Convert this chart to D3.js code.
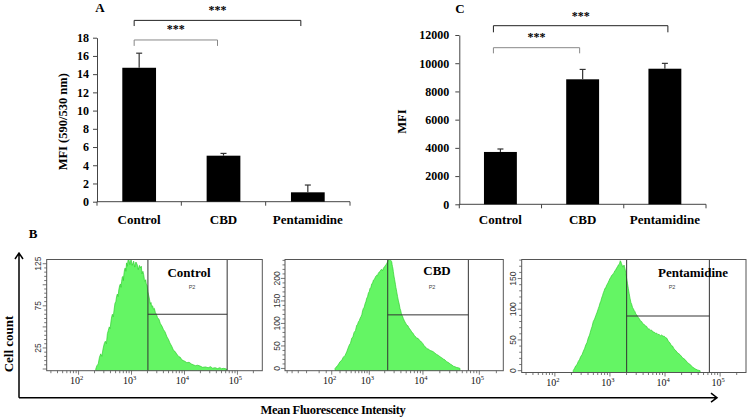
<!DOCTYPE html>
<html>
<head>
<meta charset="utf-8">
<script src="https://cdn.jsdelivr.net/npm/d3@7"></script>
<style>
  body { margin: 0; background: #fff; }
  svg { display: block; }
  text { font-family: 'Liberation Serif', 'Times New Roman', serif; }
</style>
</head>
<body>
<div id="chart"></div>
<script>
// Bar chart data (panels A and C)
const categories = ['Control', 'CBD', 'Pentamidine'];
const ratioMeans = [14.7, 5.05, 1.03];
const ratioErrors = [1.6, 0.25, 0.8];
const mfiMeans = [3710, 8860, 9610];
const mfiErrors = [210, 700, 380];
const ratioTicks = [0, 2, 4, 6, 8, 10, 12, 14, 16, 18];
const mfiTicks = [0, 2000, 4000, 6000, 8000, 10000, 12000];
// significance brackets: [from, to, level, leg drop]
const ratioBrackets = [[0, 1, 17.75, 0.65], [0, 2, 19.9, 0.62]];
const mfiBrackets = [[0, 1, 11100, 400], [0, 2, 12660, 470]];

// Flow cytometry histograms (panel B): [intensity, cell count]
const controlHist = [[211,0],[222,4],[235,6],[248,14],[262,18],[275,15],[290,24],[305,30],[320,33],[335,30],[350,42],[365,46],[380,50],[395,48],[410,57],[422,62],[435,65],[452,62],[470,71],[487,78],[505,80],[522,86],[540,89],[557,86],[575,94],[596,99],[617,101],[633,97],[650,104],[670,109],[690,110],[703,105],[716,112],[738,118],[760,120],[782,116],[805,126],[830,122],[860,129],[891,130],[930,124],[980,130],[1030,123],[1096,128],[1150,121],[1210,127],[1279,124],[1340,118],[1410,123],[1479,120],[1530,122],[1580,113],[1640,116],[1698,112],[1750,106],[1800,104],[1850,106],[1900,101],[1972,99],[2030,92],[2100,88],[2180,83],[2270,77],[2330,79],[2400,74],[2500,75],[2600,71],[2700,72],[2818,67],[2950,65],[3100,61],[3300,59],[3500,54],[3750,51],[4000,47],[4300,44],[4677,38],[5000,35],[5300,31],[5750,27],[6223,22],[6600,21],[7100,18],[7700,15],[8318,14],[8900,11],[9500,10],[10300,9],[11092,7.5],[12200,8],[13500,6],[14700,5],[16000,4],[17800,4.5],[19724,3.5],[22000,2],[25000,2.5],[28000,1.5],[31000,2.8],[34000,1],[38000,1.6],[42000,0.5],[46774,1.6],[50000,0.4],[55000,0.8],[62373,0]];
const cbdHist = [[136,0],[150,3],[170,7],[185,11],[200,15],[225,18],[250,25],[280,29],[310,37],[335,45],[360,52],[385,56],[413,67],[440,70],[470,80],[505,84],[540,96],[565,98],[590,104],[615,106],[639,111],[670,115],[700,120],[725,128],[752,133],[785,136],[820,144],[850,148],[885,156],[920,159],[960,168],[995,170],[1034,178],[1075,180],[1120,188],[1160,189],[1204,196],[1250,197],[1300,201],[1350,205],[1404,207],[1450,206],[1500,211],[1560,214],[1627,215],[1690,219],[1750,220],[1815,217],[1881,222],[1940,225],[2000,226],[2060,229],[2118,230],[2180,233],[2250,236],[2300,238],[2339,241],[2420,242],[2517,242],[2600,240],[2707,237],[2750,231],[2800,226],[2850,222],[2900,215],[2950,209],[3000,203],[3060,198],[3117,192],[3170,187],[3230,180],[3290,176],[3350,170],[3470,160],[3600,150],[3720,143],[3852,133],[3980,128],[4100,120],[4250,117],[4425,111],[4580,107],[4750,103],[4920,100],[5100,96],[5350,95],[5600,90],[5950,86],[6290,81],[6650,78],[7000,73],[7350,71],[7740,67],[8150,67],[8600,63],[9050,61],[9510,58],[10000,55],[10500,50],[11100,48],[11690,44],[12500,43],[13400,40],[14300,39],[15320,37],[16400,34],[17600,31],[18900,29],[20160,26],[21500,24],[23000,21],[24700,19],[26500,15],[28500,13],[30500,10],[32500,8],[34700,5],[37000,4],[40000,2],[42500,1.5],[45600,0]];
const pentHist = [[215,0],[228,4],[240,8],[253,10],[266,15],[280,18],[295,23],[311,26],[327,31],[346,36],[365,42],[384,46],[403,53],[426,58],[450,66],[474,72],[498,80],[526,84],[555,90],[584,95],[614,101],[637,105],[660,110],[682,113],[705,118],[732,122],[760,127],[785,130],[811,134],[840,135],[870,139],[900,141],[933,144],[965,147],[1000,150],[1035,152],[1072,155],[1110,156],[1150,158],[1190,160],[1233,163],[1275,164],[1320,167],[1370,169],[1419,172],[1460,173],[1500,175],[1540,179],[1585,177],[1620,174],[1660,172],[1700,169],[1746,169],[1800,172],[1875,166],[1950,158],[2010,150],[2080,142],[2153,134],[2230,126],[2311,118],[2400,111],[2480,108],[2570,103],[2655,101],[2750,98],[2850,96],[2950,92],[3055,91],[3220,87],[3400,85],[3580,81],[3767,80],[3980,76],[4200,75],[4420,73],[4645,72],[4900,68],[5150,68],[5430,66],[5728,66],[6000,63],[6300,63],[6680,61],[7063,61],[7420,59],[7800,59],[8250,57],[8710,58],[9200,56],[9700,56],[10200,54],[10720,53],[11500,48],[12330,45],[13000,41],[13700,40],[14400,36],[15200,34],[16900,29],[18750,26],[20800,21],[23100,18],[25700,13],[28500,10],[31600,6],[35100,3],[39000,1],[43300,0]];
const histSeries = [controlHist, cbdHist, pentHist];
const countDomains = [[-2, 130], [-5, 242], [-3, 181]];
const countTicks = [[25, 75, 125], [0, 50, 100, 150, 200], [0, 50, 100, 150]];
const decadeTicks = [100, 1000, 10000, 100000];
const gateLow = [2040, 2280, 2010];
const gateHigh = [64000, 64000, 63800];
const gateLevel = [65, 119, 89];

const W = 750, H = 419;
const svg = d3.select('#chart').append('svg')
    .attr('width', W)
    .attr('height', H);

const bold = sel => sel.style('font-weight', '700');

function barPanel(opts) {
    const { means, errors, ticks, brackets, left, right, top, bottom, max, label, letter, letterPos, labelX, tickPad } = opts;
    const g = svg.append('g');

    const x = d3.scaleBand()
        .domain(categories)
        .range([left, right])
        .paddingInner(0.6)
        .paddingOuter(0.3);
    const y = d3.scaleLinear().domain([0, max]).range([bottom, top]);

    // y axis
    const yAxis = g.append('g')
        .attr('transform', `translate(${left},0)`)
        .call(d3.axisLeft(y).tickValues(ticks).tickFormat(d3.format('d'))
            .tickSize(4).tickPadding(tickPad).tickSizeOuter(0));
    yAxis.attr('font-family', null).attr('font-size', null);
    yAxis.select('.domain').attr('stroke', '#444');
    yAxis.selectAll('line').attr('stroke', '#444');
    yAxis.selectAll('text')
        .style('font-family', "'Liberation Serif', serif")
        .style('font-size', '12px')
        .style('font-weight', '700')
        .attr('fill', '#000');

    // x axis with ticks at category boundaries
    g.append('line')
        .attr('x1', left).attr('x2', right)
        .attr('y1', bottom).attr('y2', bottom)
        .attr('stroke', '#444');
    g.selectAll('.xtick')
        .data(d3.range(categories.length + 1))
        .enter().append('line')
        .attr('x1', i => left + i * x.step())
        .attr('x2', i => left + i * x.step())
        .attr('y1', bottom).attr('y2', bottom + 4)
        .attr('stroke', '#444');

    g.selectAll('.cat')
        .data(categories)
        .enter().append('text')
        .attr('x', d => x(d) + x.bandwidth() / 2)
        .attr('y', 224)
        .attr('text-anchor', 'middle')
        .style('font-size', '13px')
        .call(bold)
        .text(d => d);

    // bars
    g.selectAll('.bar')
        .data(categories)
        .enter().append('rect')
        .attr('x', d => x(d))
        .attr('width', x.bandwidth())
        .attr('y', (d, i) => y(means[i]))
        .attr('height', (d, i) => bottom - y(means[i]))
        .attr('fill', '#000');

    // upper error bars
    const err = g.selectAll('.err')
        .data(categories)
        .enter().append('g')
        .attr('stroke', '#333')
        .attr('stroke-width', 1.2);
    err.append('line')
        .attr('x1', d => x(d) + x.bandwidth() / 2)
        .attr('x2', d => x(d) + x.bandwidth() / 2)
        .attr('y1', (d, i) => y(means[i]))
        .attr('y2', (d, i) => y(means[i] + errors[i]));
    err.append('line')
        .attr('x1', d => x(d) + x.bandwidth() / 2 - 3)
        .attr('x2', d => x(d) + x.bandwidth() / 2 + 3)
        .attr('y1', (d, i) => y(means[i] + errors[i]))
        .attr('y2', (d, i) => y(means[i] + errors[i]));

    // significance brackets
    brackets.forEach((b, k) => {
        const [from, to, level, drop] = b;
        const x1 = x(categories[from]) + x.bandwidth() / 2 + opts.bracketNudge[0];
        const x2 = x(categories[to]) + x.bandwidth() / 2 + opts.bracketNudge[k + 1];
        g.append('path')
            .attr('d', `M${x1},${y(level - drop)}V${y(level)}H${x2}V${y(level - drop)}`)
            .attr('fill', 'none')
            .attr('stroke', k === 0 ? '#888' : '#222')
            .attr('stroke-width', 1);
        g.append('text')
            .attr('x', (x1 + x2) / 2)
            .attr('y', y(level) - 6 + (k === 0 ? -1 : 0))
            .attr('text-anchor', 'middle')
            .attr('fill', '#000')
            .style('font-size', '12px')
            .call(bold)
            .text('***');
    });

    // y label
    g.append('text')
        .attr('transform', `translate(${labelX},${(top + bottom) / 2 + 2}) rotate(-90)`)
        .attr('text-anchor', 'middle')
        .style('font-size', '12.5px')
        .call(bold)
        .text(label);

    g.append('text')
        .attr('x', letterPos[0]).attr('y', letterPos[1])
        .attr('text-anchor', 'middle')
        .style('font-size', '13px')
        .call(bold)
        .text(letter);
}

barPanel({
    means: ratioMeans, errors: ratioErrors, ticks: ratioTicks, brackets: ratioBrackets,
    left: 97, right: 350, top: 37.7, bottom: 201.7, max: 18,
    label: 'MFI (590/530 nm)', letter: 'A', letterPos: [100, 12], labelX: 67, tickPad: 4,
    bracketNudge: [-5, -6, -7]
});

barPanel({
    means: mfiMeans, errors: mfiErrors, ticks: mfiTicks, brackets: mfiBrackets,
    left: 459.3, right: 706, top: 35, bottom: 204.3, max: 12000,
    label: 'MFI', letter: 'C', letterPos: [460, 13], labelX: 406, tickPad: 6,
    bracketNudge: [-7, -3, 3]
});

// ---- Panel B: histograms ----
const panelLeft = [46.7, 285, 521.7];
const panelRight = [262.3, 503.3, 746];
const panelTop = 259.5;
const panelBottom = [370.7, 370.7, 372.5];
const namePos = [[189, 276.5], [437, 275], [693, 277]];
const p2Pos = [192, 432, 672];

function logTicks(lo, hi, biexp) {
    const out = [];
    for (let n = 1; n <= 5; n++) {
        for (let k = 1; k <= 9; k++) {
            const v = k * Math.pow(10, n);
            if (v < lo || v > hi) continue;
            if (biexp && v < 100) continue;
            out.push({ v, major: k === 1 && n >= 2 });
        }
    }
    if (biexp) [-400, -300, -200, -100, 0, 50].forEach(v => out.push({ v, major: false }));
    return out;
}

histSeries.forEach((data, i) => {
    const g = svg.append('g');
    const L = panelLeft[i], R = panelRight[i], T = panelTop, B = panelBottom[i];

    const x = i === 1
        ? d3.scaleSymlog().constant(150).domain([-450, 265000]).range([L, R])
        : d3.scaleLog().domain([25, 295000]).range([L, R]);
    const y = d3.scaleLinear().domain(countDomains[i]).range([B, T]);

    const clipId = `clip${i}`;
    svg.append('clipPath').attr('id', clipId)
        .append('rect').attr('x', L).attr('y', T).attr('width', R - L).attr('height', B - T);

    const area = d3.area()
        .x(d => x(d[0]))
        .y0(B)
        .y1(d => y(d[1]));

    g.append('path')
        .datum(data)
        .attr('clip-path', `url(#${clipId})`)
        .attr('d', area)
        .attr('fill', '#64f564')
        .attr('stroke', '#30d030')
        .attr('stroke-width', 0.7);

    // gate lines
    const gx1 = x(gateLow[i]), gx2 = x(gateHigh[i]), gy = y(gateLevel[i]);
    g.append('path')
        .attr('d', `M${gx1},${T}V${B}M${gx2},${T}V${B}M${gx1},${gy}H${gx2}`)
        .attr('fill', 'none')
        .attr('stroke', '#333')
        .attr('stroke-width', 1);

    // plot frame
    g.append('rect')
        .attr('x', L).attr('y', T)
        .attr('width', R - L).attr('height', B - T)
        .attr('fill', 'none')
        .attr('stroke', '#555')
        .attr('stroke-width', 1);

    // x ticks (log / biexponential)
    const [d0, d1] = x.domain();
    g.selectAll('.xt')
        .data(logTicks(d0, d1, i === 1))
        .enter().append('line')
        .attr('x1', d => x(d.v)).attr('x2', d => x(d.v))
        .attr('y1', B).attr('y2', d => B + (d.major ? 4 : 2.5))
        .attr('stroke', '#555')
        .attr('stroke-width', 0.8);

    const xl = g.selectAll('.xl')
        .data(decadeTicks)
        .enter().append('text')
        .attr('x', d => x(d) - 2)
        .attr('y', B + 13.5)
        .attr('text-anchor', 'middle')
        .style('font-size', '10px')
        .attr('fill', '#111');
    xl.append('tspan').text('10');
    xl.append('tspan')
        .attr('dy', -4)
        .style('font-size', '6.5px')
        .text(d => Math.round(Math.log10(d)));

    // y ticks
    const [c0, c1] = countDomains[i];
    const step = i === 0 ? 5 : 10;
    const majorStep = i === 0 ? 25 : 50;
    g.selectAll('.yt')
        .data(d3.range(Math.ceil(c0 / step) * step, c1, step).filter(v => v >= 0))
        .enter().append('line')
        .attr('x1', L).attr('x2', d => L - (d % majorStep === 0 ? 4 : 2.5))
        .attr('y1', d => y(d)).attr('y2', d => y(d))
        .attr('stroke', '#555')
        .attr('stroke-width', 0.8);

    g.selectAll('.yl')
        .data(countTicks[i])
        .enter().append('text')
        .attr('transform', d => `translate(${L - 5.5},${y(d)}) rotate(-90)`)
        .attr('text-anchor', 'middle')
        .style('font-family', "'Liberation Sans', sans-serif")
        .style('font-size', '8.5px')
        .attr('fill', '#333')
        .text(d => d);

    // sample name and gate label
    g.append('text')
        .attr('x', namePos[i][0]).attr('y', namePos[i][1])
        .attr('text-anchor', 'middle')
        .style('font-size', '13px')
        .call(bold)
        .text(categories[i]);
    g.append('text')
        .attr('x', p2Pos[i]).attr('y', 289)
        .attr('text-anchor', 'middle')
        .style('font-family', "'Liberation Sans', sans-serif")
        .style('font-size', '5.5px')
        .attr('fill', '#444')
        .text('P2');
});

// outer arrows for panel B
const ax = 19, ay = 397.7;
svg.append('path')
    .attr('d', `M${ax},${ay}V253M${ax - 4},259L${ax},253L${ax + 4},259`)
    .attr('fill', 'none').attr('stroke', '#000').attr('stroke-width', 1.5);
svg.append('path')
    .attr('d', `M${ax},${ay}H717M711,${ay - 4.5}L717,${ay}L711,${ay + 4.5}`)
    .attr('fill', 'none').attr('stroke', '#000').attr('stroke-width', 1.5);

svg.append('text')
    .attr('transform', `translate(13,344) rotate(-90)`)
    .attr('text-anchor', 'middle')
    .style('font-size', '13px')
    .call(bold)
    .text('Cell count');

svg.append('text')
    .attr('x', 333).attr('y', 414)
    .attr('text-anchor', 'middle')
    .style('font-size', '12.5px')
    .style('letter-spacing', '-0.3px')
    .call(bold)
    .text('Mean Fluorescence Intensity');

svg.append('text')
    .attr('x', 33).attr('y', 238)
    .attr('text-anchor', 'middle')
    .style('font-size', '13px')
    .call(bold)
    .text('B');
</script>
</body>
</html>
